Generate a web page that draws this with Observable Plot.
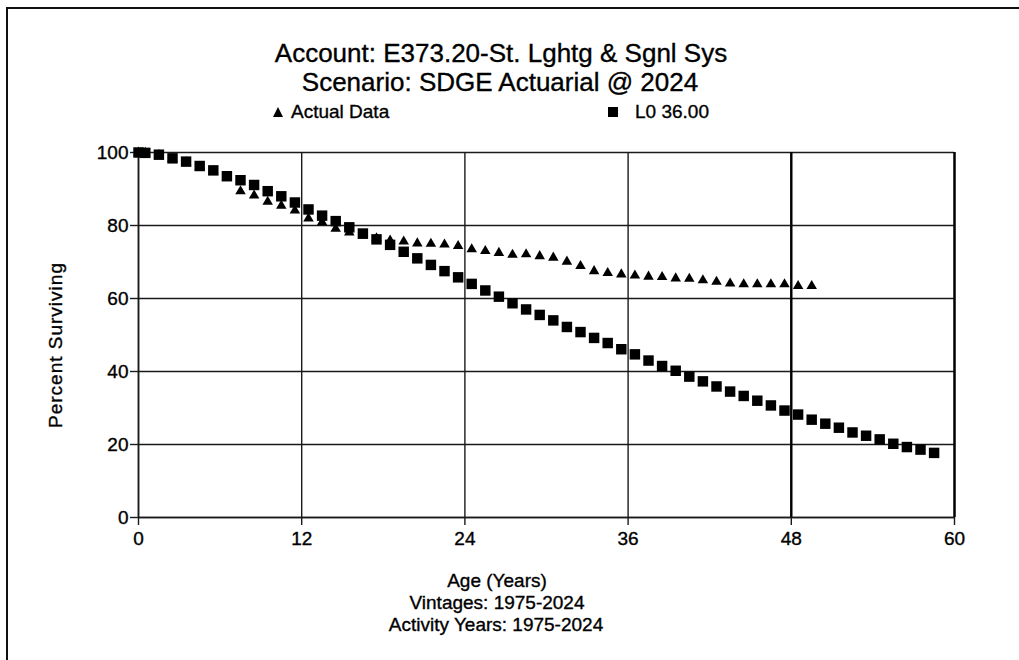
<!DOCTYPE html>
<html>
<head>
<meta charset="utf-8">
<script src="https://cdn.jsdelivr.net/npm/d3@7"></script>
<script src="https://cdn.jsdelivr.net/npm/@observablehq/plot@0.6"></script>
<style>
  body { margin: 0; background: #fff; }
  #wrap { position: relative; width: 1019px; height: 660px; overflow: hidden; background: #fff;
          font-family: "Liberation Sans", Arial, sans-serif; color: #000; }
  #wrap svg { position: absolute; left: 0; top: 0; }
  #wrap svg text { stroke: #000; stroke-width: 0.35px; }
  .t { position: absolute; white-space: nowrap; line-height: 1; -webkit-text-stroke: 0.35px #000; }
  .c { transform: translateX(-50%); }
  #border { position: absolute; left: 6px; top: 7px; width: 1100px; height: 700px;
            border-left: 2px solid #111; border-top: 2px solid #111; }
</style>
</head>
<body>
<div id="wrap">
  <div id="border"></div>
  <div id="chart"></div>
  <div class="t c" id="title1" style="left:501px;top:40px;font-size:26px;"></div>
  <div class="t c" id="title2" style="left:500px;top:69px;font-size:26px;"></div>
  <svg width="12" height="12" style="left:272px;top:106px;position:absolute"><polygon points="6,1 11,11 1,11" fill="#000"/></svg>
  <div class="t" id="leg1" style="left:291px;top:102px;font-size:19px;"></div>
  <svg width="12" height="12" style="left:607px;top:106px;position:absolute"><rect x="1" y="1" width="10" height="10" fill="#000"/></svg>
  <div class="t" id="leg2" style="left:635px;top:102px;font-size:19px;"></div>
  <div class="t" id="ylab" style="left:55px;top:345px;font-size:19px;letter-spacing:1px;transform:translate(-50%,-50%) rotate(-90deg);"></div>
  <div class="t c" id="xlab1" style="left:497px;top:571px;font-size:19px;"></div>
  <div class="t c" id="xlab2" style="left:497px;top:593px;font-size:19px;"></div>
  <div class="t c" id="xlab3" style="left:496px;top:615px;font-size:19px;"></div>
</div>
<script>
// ---- Text ----
const titleLines = ["Account: E373.20-St. Lghtg & Sgnl Sys", "Scenario: SDGE Actuarial @ 2024"];
const seriesNames = ["Actual Data", "L0 36.00"];
const yLabel = "Percent Surviving";
const xLabelLines = ["Age (Years)", "Vintages: 1975-2024", "Activity Years: 1975-2024"];

// ---- Ticks ----
const xTicks = [0, 12, 24, 36, 48, 60];
const yTicks = [0, 20, 40, 60, 80, 100];
const heavyX = [48, 60];

// ---- Series: L0 36.00 (squares) ----
const l0Ages = [0, 0.5, 1.5, 2.5, 3.5, 4.5, 5.5, 6.5, 7.5, 8.5, 9.5, 10.5, 11.5, 12.5, 13.5, 14.5,
  15.5, 16.5, 17.5, 18.5, 19.5, 20.5, 21.5, 22.5, 23.5, 24.5, 25.5, 26.5, 27.5, 28.5, 29.5,
  30.5, 31.5, 32.5, 33.5, 34.5, 35.5, 36.5, 37.5, 38.5, 39.5, 40.5, 41.5, 42.5, 43.5, 44.5,
  45.5, 46.5, 47.5, 48.5, 49.5, 50.5, 51.5, 52.5, 53.5, 54.5, 55.5, 56.5, 57.5, 58.5];
const l0Values = [100, 99.9, 99.4, 98.4, 97.5, 96.3, 95.1, 93.5, 92.4, 91.1, 89.4, 88.0, 86.3, 84.4, 82.7, 81.2,
  79.5, 77.8, 76.2, 74.7, 72.8, 71.0, 69.2, 67.5, 65.8, 64.0, 62.2, 60.5, 58.7, 57.0, 55.5,
  54.0, 52.2, 50.8, 49.2, 47.8, 46.1, 44.7, 43.0, 41.5, 40.2, 38.6, 37.3, 35.9, 34.5, 33.3,
  32.0, 30.7, 29.3, 28.2, 26.8, 25.7, 24.6, 23.3, 22.4, 21.4, 20.2, 19.3, 18.6, 17.7];

// ---- Series: Actual Data (triangles) ----
const actualAges = [0, 0.5, 1.5, 2.5, 3.5, 4.5, 5.5, 6.5, 7.5, 8.5, 9.5, 10.5, 11.5, 12.5, 13.5, 14.5,
  15.5, 16.5, 17.5, 18.5, 19.5, 20.5, 21.5, 22.5, 23.5, 24.5, 25.5, 26.5, 27.5, 28.5, 29.5,
  30.5, 31.5, 32.5, 33.5, 34.5, 35.5, 36.5, 37.5, 38.5, 39.5, 40.5, 41.5, 42.5, 43.5, 44.5,
  45.5, 46.5, 47.5, 48.5, 49.5];
const actualValues = [100, 99.9, 99.3, 98.3, 97.3, 96.1, 94.9, 93.0, 89.4, 88.2, 86.5, 85.4, 84.1, 81.9, 80.9, 79.1,
  78.1, 77.2, 76.5, 75.9, 75.6, 75.1, 75.0, 74.8, 74.4, 73.5, 73.0, 72.5, 72.0, 72.1, 71.6,
  71.2, 70.1, 68.9, 67.5, 67.0, 66.6, 66.3, 66.0, 65.9, 65.5, 65.4, 65.0, 64.6, 64.1, 63.9,
  63.9, 63.9, 63.9, 63.4, 63.4];

const l0 = l0Ages.map((a, i) => ({age: a, pct: l0Values[i]}));
const actual = actualAges.map((a, i) => ({age: a, pct: actualValues[i]}));

const lineColor = "#1a1a1a";

const chart = Plot.plot({
  width: 1019,
  height: 660,
  marginLeft: 138,
  marginRight: 65,
  marginTop: 152,
  marginBottom: 143,
  x: {domain: [0, 60]},
  y: {domain: [0, 100]},
  style: {fontFamily: "'Liberation Sans', Arial, sans-serif", fontSize: "19px", color: "#000", background: "transparent"},
  marks: [
    Plot.gridX(xTicks, {stroke: lineColor, strokeOpacity: 1, strokeWidth: 1.4}),
    Plot.gridY(yTicks, {stroke: lineColor, strokeOpacity: 1, strokeWidth: 1.4}),
    Plot.ruleX(heavyX, {stroke: "#000", strokeWidth: 2.4}),
    Plot.ruleX([0], {stroke: lineColor, strokeWidth: 1.6}),
    Plot.ruleY([0], {stroke: lineColor, strokeWidth: 1.6}),
    Plot.axisX(xTicks, {tickSize: 8, tickPadding: 6, label: null, fontSize: 19, stroke: lineColor, strokeWidth: 1.4}),
    Plot.axisY(yTicks, {tickSize: 8, tickPadding: 2, label: null, fontSize: 19, stroke: lineColor, strokeWidth: 1.4}),
    Plot.dot(actual, {x: "age", y: "pct", symbol: "triangle", r: 3.9, fill: "#000", stroke: "none"}),
    Plot.dot(l0, {x: "age", y: "pct", symbol: "square", r: 5.9, fill: "#000", stroke: "none"})
  ]
});
document.getElementById("chart").appendChild(chart);

document.getElementById("title1").textContent = titleLines[0];
document.getElementById("title2").textContent = titleLines[1];
document.getElementById("leg1").textContent = seriesNames[0];
document.getElementById("leg2").textContent = seriesNames[1];
document.getElementById("ylab").textContent = yLabel;
document.getElementById("xlab1").textContent = xLabelLines[0];
document.getElementById("xlab2").textContent = xLabelLines[1];
document.getElementById("xlab3").textContent = xLabelLines[2];
</script>
</body>
</html>
